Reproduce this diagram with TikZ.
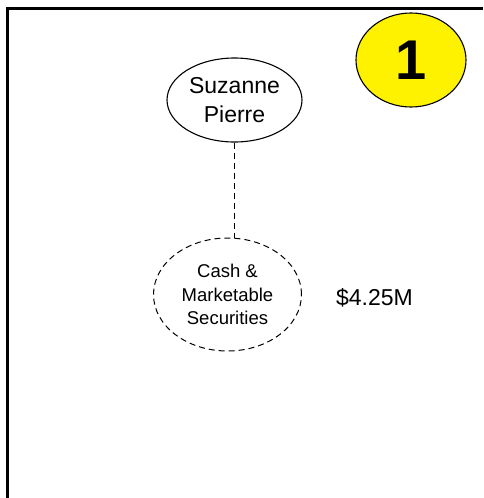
\documentclass[tikz,border=0pt]{standalone}
\usepackage{fontspec}
\setmainfont{Liberation Sans}
\usetikzlibrary{shapes.geometric}
\begin{document}
\begin{tikzpicture}[x=1pt,y=1pt,
  oval/.style={ellipse,draw,inner sep=0pt,align=center,line width=1.1pt},
  dashoval/.style={oval,line width=1pt,dash pattern=on 6pt off 4pt},
  conn/.style={line width=1pt,dash pattern=on 6pt off 4pt}]
\useasboundingbox (0,0) rectangle (483,-498);
\fill[white] (0,0) rectangle (483,-498);
\draw[line width=3pt] (7.5,-498) -- (7.5,-8.5) -- (483,-8.5);
\node[oval,fill=yellow,minimum width=110pt,minimum height=94pt,font=\bfseries\fontsize{56}{60}\selectfont] (num) at (411,-60) {\raisebox{-2pt}{1}};
\node[oval,minimum width=135pt,minimum height=84pt,font=\fontsize{23}{29}\selectfont] (suz) at (234.5,-100) {Suzanne\\Pierre};
\node[dashoval,minimum width=148pt,minimum height=113pt,font=\fontsize{18.5}{23.5}\selectfont] (cash) at (227.5,-294.5) {Cash \&\\Marketable\\Securities};
\node[font=\fontsize{23}{27}\selectfont] (val) at (374.5,-298) {\$4.25M};
\coordinate (end) at (suz.south |- cash.north);
\draw[conn] (suz.south) -- (end);
\end{tikzpicture}
\end{document}
